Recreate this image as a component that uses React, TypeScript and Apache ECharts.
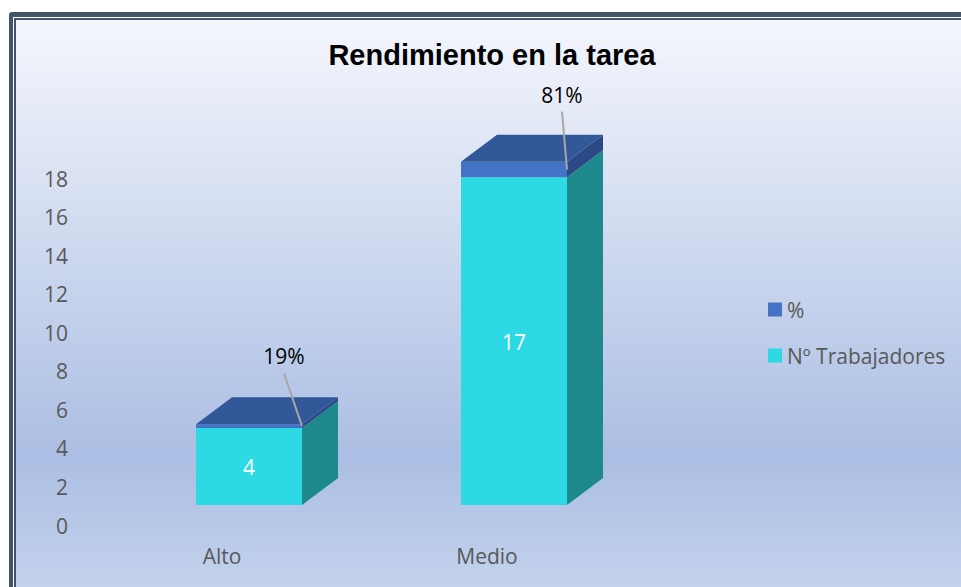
import React, { useEffect, useRef } from "react";
import * as echarts from "echarts";

const categories = ["Alto", "Medio"];
const workers = [4, 17];
const percents = [0.19, 0.81];
const yTicks = { min: 0, max: 18, interval: 2 };
const seriesNames = ["%", "Nº Trabajadores"];
const titleText = "Rendimiento en la tarea";

const FONT = '"Open Sans", sans-serif';
const FONT_SIZE = 21;
const BAR_SHIFT_X = 27;
const BAR_W = 106;
const LIFT = 20.5;
const DEPTH_X = 36;
const DEPTH_Y = 27;
// leader label centres relative to the bar's front top right corner
const PCT_LABEL_OFFSET = [
  [-18, -68],
  [-5, -67],
];

type Face = { front: string; side: string; top?: string };

function prism(params: any, api: any, face: Face, extra: any[]) {
  const cat = api.value(0);
  const lo = api.coord([cat, api.value(1)]);
  const hi = api.coord([cat, api.value(2)]);
  const x0 = lo[0] + BAR_SHIFT_X - BAR_W / 2;
  const x1 = x0 + BAR_W;
  const yb = lo[1] - LIFT;
  const yt = hi[1] - LIFT;
  const children: any[] = [
    {
      type: "polygon",
      shape: { points: [[x1, yb], [x1 + DEPTH_X, yb - DEPTH_Y], [x1 + DEPTH_X, yt - DEPTH_Y], [x1, yt]] },
      style: { fill: face.side },
    },
    {
      type: "rect",
      shape: { x: x0, y: yt, width: BAR_W, height: yb - yt },
      style: { fill: face.front },
    },
  ];
  if (face.top) {
    children.push({
      type: "polygon",
      shape: { points: [[x0, yt], [x0 + DEPTH_X, yt - DEPTH_Y], [x1 + DEPTH_X, yt - DEPTH_Y], [x1, yt]] },
      style: { fill: face.top },
    });
  }
  return { type: "group", children: children.concat(extra.map((f) => f({ x0, x1, yb, yt, cat }))) };
}

export default function App() {
  const ref = useRef<HTMLDivElement>(null);
  useEffect(() => {
    const chart = echarts.init(ref.current!, undefined, { renderer: "svg" });
    chart.setOption({
      animation: false,
      backgroundColor: "#ffffff",
      color: ["#4472C4", "#2DD9E2"],
      title: {
        text: titleText,
        left: 487,
        top: 35,
        textAlign: "center",
        textStyle: { fontFamily: '"Liberation Sans", Arial, sans-serif', fontWeight: "bold", fontSize: 29, color: "#000000" },
      },
      legend: {
        orient: "vertical",
        left: 768,
        top: 299,
        padding: 0,
        icon: "rect",
        itemWidth: 14,
        itemHeight: 14,
        itemGap: 25,
        data: seriesNames,
        selectedMode: false,
        textStyle: { fontFamily: FONT, fontSize: FONT_SIZE, color: "#595959" },
      },
      grid: { left: 89.5, width: 530, top: 178.5, height: 347 },
      xAxis: {
        type: "category",
        data: categories,
        axisLine: { show: false },
        axisTick: { show: false },
        axisLabel: { fontFamily: FONT, fontSize: FONT_SIZE, color: "#595959", margin: 20 },
      },
      yAxis: {
        type: "value",
        min: yTicks.min,
        max: yTicks.max,
        interval: yTicks.interval,
        splitLine: { show: false },
        axisLine: { show: false },
        axisTick: { show: false },
        axisLabel: { fontFamily: FONT, fontSize: FONT_SIZE, color: "#595959", margin: 21.5 },
      },
      graphic: [
        { type: "rect", z: 0, shape: { x: 9, y: 12, width: 1000, height: 700, r: 3 }, style: { fill: "#44546A" } },
        { type: "rect", z: 0, shape: { x: 13, y: 17, width: 1000, height: 700 }, style: { fill: "#FFFFFF" } },
        { type: "rect", z: 0, shape: { x: 14, y: 18, width: 1000, height: 700 }, style: { fill: "#44546A" } },
        {
          type: "rect",
          z: 0,
          shape: { x: 16, y: 20, width: 945, height: 567 },
          style: {
            fill: new echarts.graphic.LinearGradient(0, 0, 0, 1, [
              { offset: 0, color: "#F4F6FC" },
              { offset: 0.77, color: "#ABBEE3" },
              { offset: 1, color: "#C3D2EC" },
            ]),
          },
        },
      ],
      series: [
        {
          type: "custom",
          name: seriesNames[1],
          itemStyle: { color: "#2DD9E2" },
          encode: { x: 0, y: [1, 2] },
          data: workers.map((v, i) => [i, 0, v]),
          z: 3,
          renderItem: (p: any, api: any) =>
            prism(p, api, { front: "#2DD9E2", side: "#1D898C" }, [
              ({ x0, x1, yb, yt, cat }: any) => ({
                type: "text",
                z2: 10,
                style: {
                  x: (x0 + x1) / 2,
                  y: (yb + yt) / 2 + 1,
                  text: String(workers[cat]),
                  fill: "#FFFFFF",
                  fontFamily: FONT,
                  fontSize: FONT_SIZE,
                  align: "center",
                  verticalAlign: "middle",
                },
              }),
            ]),
        },
        {
          type: "custom",
          name: seriesNames[0],
          itemStyle: { color: "#4472C4" },
          encode: { x: 0, y: [1, 2] },
          data: percents.map((v, i) => [i, workers[i], workers[i] + v]),
          z: 4,
          renderItem: (p: any, api: any) =>
            prism(p, api, { front: "#4472C4", side: "#2B4A85", top: "#325899" }, [
              ({ x1, yt, cat }: any) => {
                const [dx, dy] = PCT_LABEL_OFFSET[cat];
                return {
                  type: "line",
                  z2: 9,
                  shape: { x1: x1 + dx, y1: yt + dy + 17, x2: x1, y2: yt + (percents[cat] * 19.28) / 2 },
                  style: { stroke: "#A6A6A6", lineWidth: 2 },
                };
              },
              ({ x1, yt, cat }: any) => {
                const [dx, dy] = PCT_LABEL_OFFSET[cat];
                return {
                  type: "text",
                  z2: 10,
                  style: {
                    x: x1 + dx,
                    y: yt + dy,
                    text: Math.round(percents[cat] * 100) + "%",
                    fill: "#000000",
                    fontFamily: FONT,
                    fontSize: FONT_SIZE,
                    align: "center",
                    verticalAlign: "middle",
                  },
                };
              },
            ]),
        },
      ],
    });
    return () => chart.dispose();
  }, []);
  return <div ref={ref} style={{ position: "absolute", left: 0, top: 0, width: 961, height: 587 }} />;
}
